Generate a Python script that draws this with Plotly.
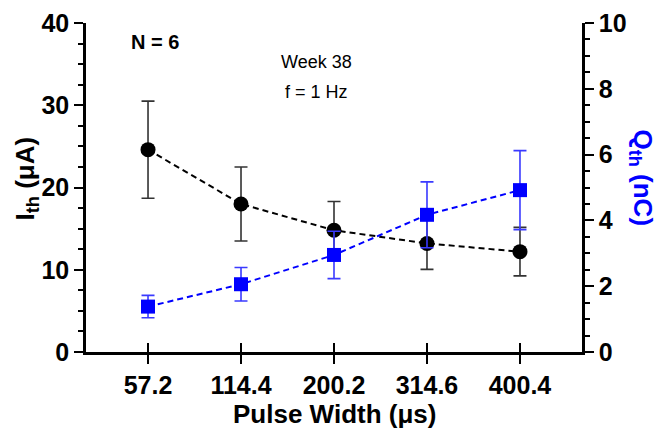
import plotly.graph_objects as go

pulse_widths = ["57.2", "114.4", "200.2", "314.6", "400.4"]
ith_mean = [24.6, 18.0, 14.8, 13.2, 12.2]
ith_err = [5.9, 4.5, 3.5, 3.15, 2.95]
qth_mean = [1.38, 2.06, 2.95, 4.17, 4.92]
qth_err = [0.34, 0.51, 0.72, 1.0, 1.2]

FONT = "Liberation Sans, Arial, Helvetica, sans-serif"
BLUE = "#0000FF"

fig = go.Figure()

fig.add_trace(go.Scatter(
    x=pulse_widths, y=ith_mean, xaxis="x", yaxis="y",
    mode="lines+markers",
    line=dict(color="black", width=2, dash="6px,4px"),
    marker=dict(symbol="circle", size=15, color="black"),
    error_y=dict(type="data", array=ith_err, visible=True,
                 color="#333333", thickness=1.6, width=6.5),
    showlegend=False,
))

fig.add_trace(go.Scatter(
    x=pulse_widths, y=qth_mean, xaxis="x2", yaxis="y2",
    mode="lines+markers",
    line=dict(color=BLUE, width=2, dash="6px,4px"),
    marker=dict(symbol="square", size=14, color=BLUE),
    error_y=dict(type="data", array=qth_err, visible=True,
                 color="#3a3aff", thickness=1.6, width=6.5),
    showlegend=False,
))

tickfont = dict(family=FONT, size=25, color="black", weight="bold")
xr = [-0.667, 4.667]

# page body adds an 8px offset, so the figure is 8px smaller than the window
fig.update_layout(
    width=659, height=420,
    margin=dict(l=78, r=85, t=15, b=76, autoexpand=False),
    paper_bgcolor="white", plot_bgcolor="white",
    xaxis=dict(
        type="category", range=xr, automargin=False,
        showline=True, linecolor="black", linewidth=2.5,
        ticks="outside", ticklen=9, tickwidth=2, tickcolor="black",
        tickfont=tickfont, showgrid=False, zeroline=False,
        anchor="y",
    ),
    xaxis2=dict(
        type="category", range=xr, overlaying="x", anchor="y", side="bottom", automargin=False,
        showline=False, ticks="inside", ticklen=9, tickwidth=2, tickcolor="black",
        showticklabels=False, showgrid=False, zeroline=False,
    ),
    yaxis=dict(
        range=[0, 40], tickvals=[0, 10, 20, 30, 40], automargin=False,
        showline=True, linecolor="black", linewidth=2.5,
        ticks="outside", ticklen=9, tickwidth=2, tickcolor="black",
        minor=dict(dtick=2.5, ticks="outside", ticklen=5, tickwidth=2, tickcolor="black"),
        tickfont=tickfont, showgrid=False, zeroline=False, anchor="x",
    ),
    yaxis3=dict(
        range=[0, 40], tickvals=[0, 10, 20, 30, 40], overlaying="y", side="left", anchor="x",
        automargin=False,
        showline=False, ticks="inside", ticklen=9, tickwidth=2, tickcolor="black",
        minor=dict(dtick=2.5, ticks="inside", ticklen=5, tickwidth=2, tickcolor="black"),
        showticklabels=False, showgrid=False, zeroline=False,
    ),
    yaxis2=dict(
        range=[0, 10], tickvals=[0, 2, 4, 6, 8, 10], overlaying="y", side="right", anchor="x",
        automargin=False,
        showline=True, linecolor="black", linewidth=2.5,
        ticks="outside", ticklen=9, tickwidth=2, tickcolor="black",
        minor=dict(dtick=0.5, ticks="outside", ticklen=5, tickwidth=2, tickcolor="black"),
        tickfont=tickfont, showgrid=False, zeroline=False,
    ),
    yaxis4=dict(
        range=[0, 10], tickvals=[0, 2, 4, 6, 8, 10], overlaying="y", side="right", anchor="x",
        automargin=False,
        showline=False, ticks="inside", ticklen=9, tickwidth=2, tickcolor="black",
        minor=dict(dtick=0.5, ticks="inside", ticklen=5, tickwidth=2, tickcolor="black"),
        showticklabels=False, showgrid=False, zeroline=False,
    ),
    annotations=[
        dict(text="Pulse Width (μs)", xref="paper", yref="paper", x=0.5, y=-0.189,
             showarrow=False, xanchor="center", yanchor="middle",
             font=dict(family=FONT, size=26, color="black", weight="bold")),
        dict(text="I<sub>th</sub> (μA)", xref="paper", yref="paper", x=-0.12, y=0.529,
             textangle=-90, showarrow=False, xanchor="center", yanchor="middle",
             font=dict(family=FONT, size=26, color="black", weight="bold")),
        dict(text="Q<sub>th</sub> (nC)", xref="paper", yref="paper", x=1.12, y=0.529,
             textangle=90, showarrow=False, xanchor="center", yanchor="middle",
             font=dict(family=FONT, size=26, color=BLUE, weight="bold")),
        dict(text="N = 6", xref="paper", yref="paper", x=0.14, y=0.941,
             showarrow=False, xanchor="center", yanchor="middle",
             font=dict(family=FONT, size=20, color="black", weight="bold")),
        dict(text="Week 38", xref="paper", yref="paper", x=0.464, y=0.881,
             showarrow=False, xanchor="center", yanchor="middle",
             font=dict(family=FONT, size=18, color="black")),
        dict(text="f = 1 Hz", xref="paper", yref="paper", x=0.464, y=0.79,
             showarrow=False, xanchor="center", yanchor="middle",
             font=dict(family=FONT, size=18, color="black")),
    ],
)

fig.write_html("out.html")
